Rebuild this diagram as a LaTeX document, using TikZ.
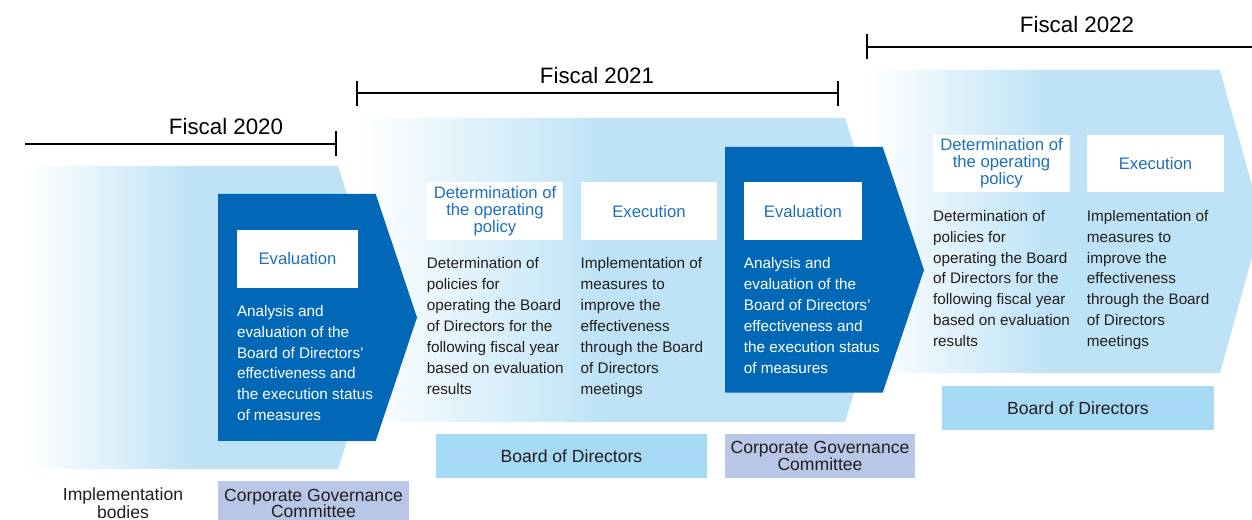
\documentclass[tikz,border=0pt]{standalone}
\usepackage{fontspec}
\setmainfont{Liberation Sans}
\usepackage{xcolor}
\usepackage{tikz}
\usetikzlibrary{positioning, arrows.meta}

\definecolor{chevblue}{RGB}{190,227,247}
\definecolor{evalblue}{RGB}{0,104,183}
\definecolor{headblue}{RGB}{28,112,188}
\definecolor{bodblue}{RGB}{166,217,244}
\definecolor{cgcblue}{RGB}{184,199,232}
\definecolor{inkgray}{RGB}{35,30,30}

\pgfdeclarehorizontalshading{chevfade}{100bp}{color(0bp)=(white); color(25bp)=(white); color(48bp)=(chevblue); color(100bp)=(chevblue)}

\begin{document}
\begin{tikzpicture}[x=0.02cm, y=0.02cm, node distance=3.08cm]
        \tikzstyle{chev} = [shading=chevfade]
        \tikzstyle{evalchev} = [fill=evalblue]
        \tikzstyle{head} = [fill=white, text=headblue, align=center, inner sep=0pt, minimum height=1.16cm, font=\fontsize{9.5}{9.6}\selectfont]
        \tikzstyle{body} = [align=left, inner sep=0pt, text=inkgray, font=\fontsize{8.7}{11.9}\selectfont]
        \tikzstyle{bodyw} = [body, text=white]
        \tikzstyle{bod} = [fill=bodblue, text=inkgray, inner sep=0pt, minimum width=5.42cm, minimum height=0.88cm, font=\fontsize{10}{10}\selectfont]
        \tikzstyle{cgc} = [fill=cgcblue, text=inkgray, align=center, inner sep=0pt, minimum width=3.82cm, minimum height=0.88cm, font=\fontsize{10}{9.6}\selectfont]
        \tikzstyle{fy} = [text=black, inner sep=0pt, font=\fontsize{12.7}{13}\selectfont]
        \tikzstyle{span} = [line width=1.1pt]

        \useasboundingbox (0,0) rectangle (1252,-520);
        \clip (0,0) rectangle (1252,-520);

        % --- light chevrons (one per fiscal year) ---
        \shade[chev] (25,-166) -- (338,-166) -- (387,-317.5) -- (338,-469) -- (25,-469) -- cycle;
        \shade[chev] (355,-118) -- (845,-118) -- (892,-270) -- (845,-422) -- (355,-422) -- cycle;
        \shade[chev] (866,-70) -- (1220,-70) -- (1262,-221.5) -- (1220,-373) -- (866,-373) -- cycle;

        % --- evaluation chevrons ---
        \fill[evalchev] (218,-194) -- (375.7,-194) -- (417,-317.5) -- (375.7,-441) -- (218,-441) -- cycle;
        \fill[evalchev] (725,-147) -- (882.7,-147) -- (924,-270) -- (882.7,-392.7) -- (725,-392.7) -- cycle;

        % --- fiscal year spans ---
        \coordinate (fy20a) at (25,-143.7);
        \coordinate (fy20b) at (337,-143.7);
        \coordinate (fy21a) at (356,-93.3);
        \coordinate (fy21b) at (839,-93.3);
        \coordinate (fy22a) at (866,-46.7);
        \coordinate (fy22b) at (1252,-46.7);
        \draw[span, -{Bar[width=14pt]}] (fy20a) -- (fy20b);
        \draw[span, {Bar[width=14pt]}-{Bar[width=14pt]}] (fy21a) -- (fy21b);
        \draw[span, {Bar[width=14pt]}-] (fy22a) -- (fy22b);
        \node[fy] (fy20) at (226,-127) {Fiscal 2020};
        \node[fy] (fy21) at (597,-76) {Fiscal 2021};
        \node[fy] (fy22) at (1077,-25) {Fiscal 2022};

        % --- fiscal 2020 ---
        \node[head, minimum width=2.42cm] (eval20) at (297.5,-259) {Evaluation};
        \node[bodyw, below right=0.33cm and 0cm of eval20.south west] (eval20txt) {Analysis and\\evaluation of the\\Board of Directors’\\effectiveness and\\the execution status\\of measures};

        % --- fiscal 2021 ---
        \node[head, minimum width=2.73cm] (det21) at (495,-211.4) {Determination of\\the operating\\policy};
        \node[head, minimum width=2.73cm, right of=det21] (exec21) {Execution};
        \node[head, minimum width=2.36cm, right of=exec21] (eval21) {Evaluation};
        \node[body, below right=0.33cm and 0cm of det21.south west] (det21txt) {Determination of\\policies for\\operating the Board\\of Directors for the\\following fiscal year\\based on evaluation\\results};
        \node[body, below right=0.33cm and 0cm of exec21.south west] (exec21txt) {Implementation of\\measures to\\improve the\\effectiveness\\through the Board\\of Directors\\meetings};
        \node[bodyw, below right=0.33cm and 0cm of eval21.south west] (eval21txt) {Analysis and\\evaluation of the\\Board of Directors’\\effectiveness and\\the execution status\\of measures};

        % --- fiscal 2022 ---
        \node[head, minimum width=2.74cm] (det22) at (1001.5,-163.5) {Determination of\\the operating\\policy};
        \node[head, minimum width=2.74cm, right of=det22] (exec22) {Execution};
        \node[body, below right=0.34cm and 0cm of det22.south west] (det22txt) {Determination of\\policies for\\operating the Board\\of Directors for the\\following fiscal year\\based on evaluation\\results};
        \node[body, below right=0.34cm and 0cm of exec22.south west] (exec22txt) {Implementation of\\measures to\\improve the\\effectiveness\\through the Board\\of Directors\\meetings};

        % --- implementation bodies ---
        \node[align=center, inner sep=0pt, text=inkgray, font=\fontsize{10}{9.1}\selectfont] (impl) at (123,-503.5) {Implementation\\bodies};
        \node[cgc, minimum height=0.92cm] (cgc20) at (313.5,-503.5) {Corporate Governance\\Committee};
        \node[bod] (bod21) at (571.5,-456) {Board of Directors};
        \node[cgc, minimum width=3.8cm] (cgc21) at (820,-456) {Corporate Governance\\Committee};
        \node[bod, minimum width=5.44cm] (bod22) at (1078,-408) {Board of Directors};

    \end{tikzpicture}
\end{document}
